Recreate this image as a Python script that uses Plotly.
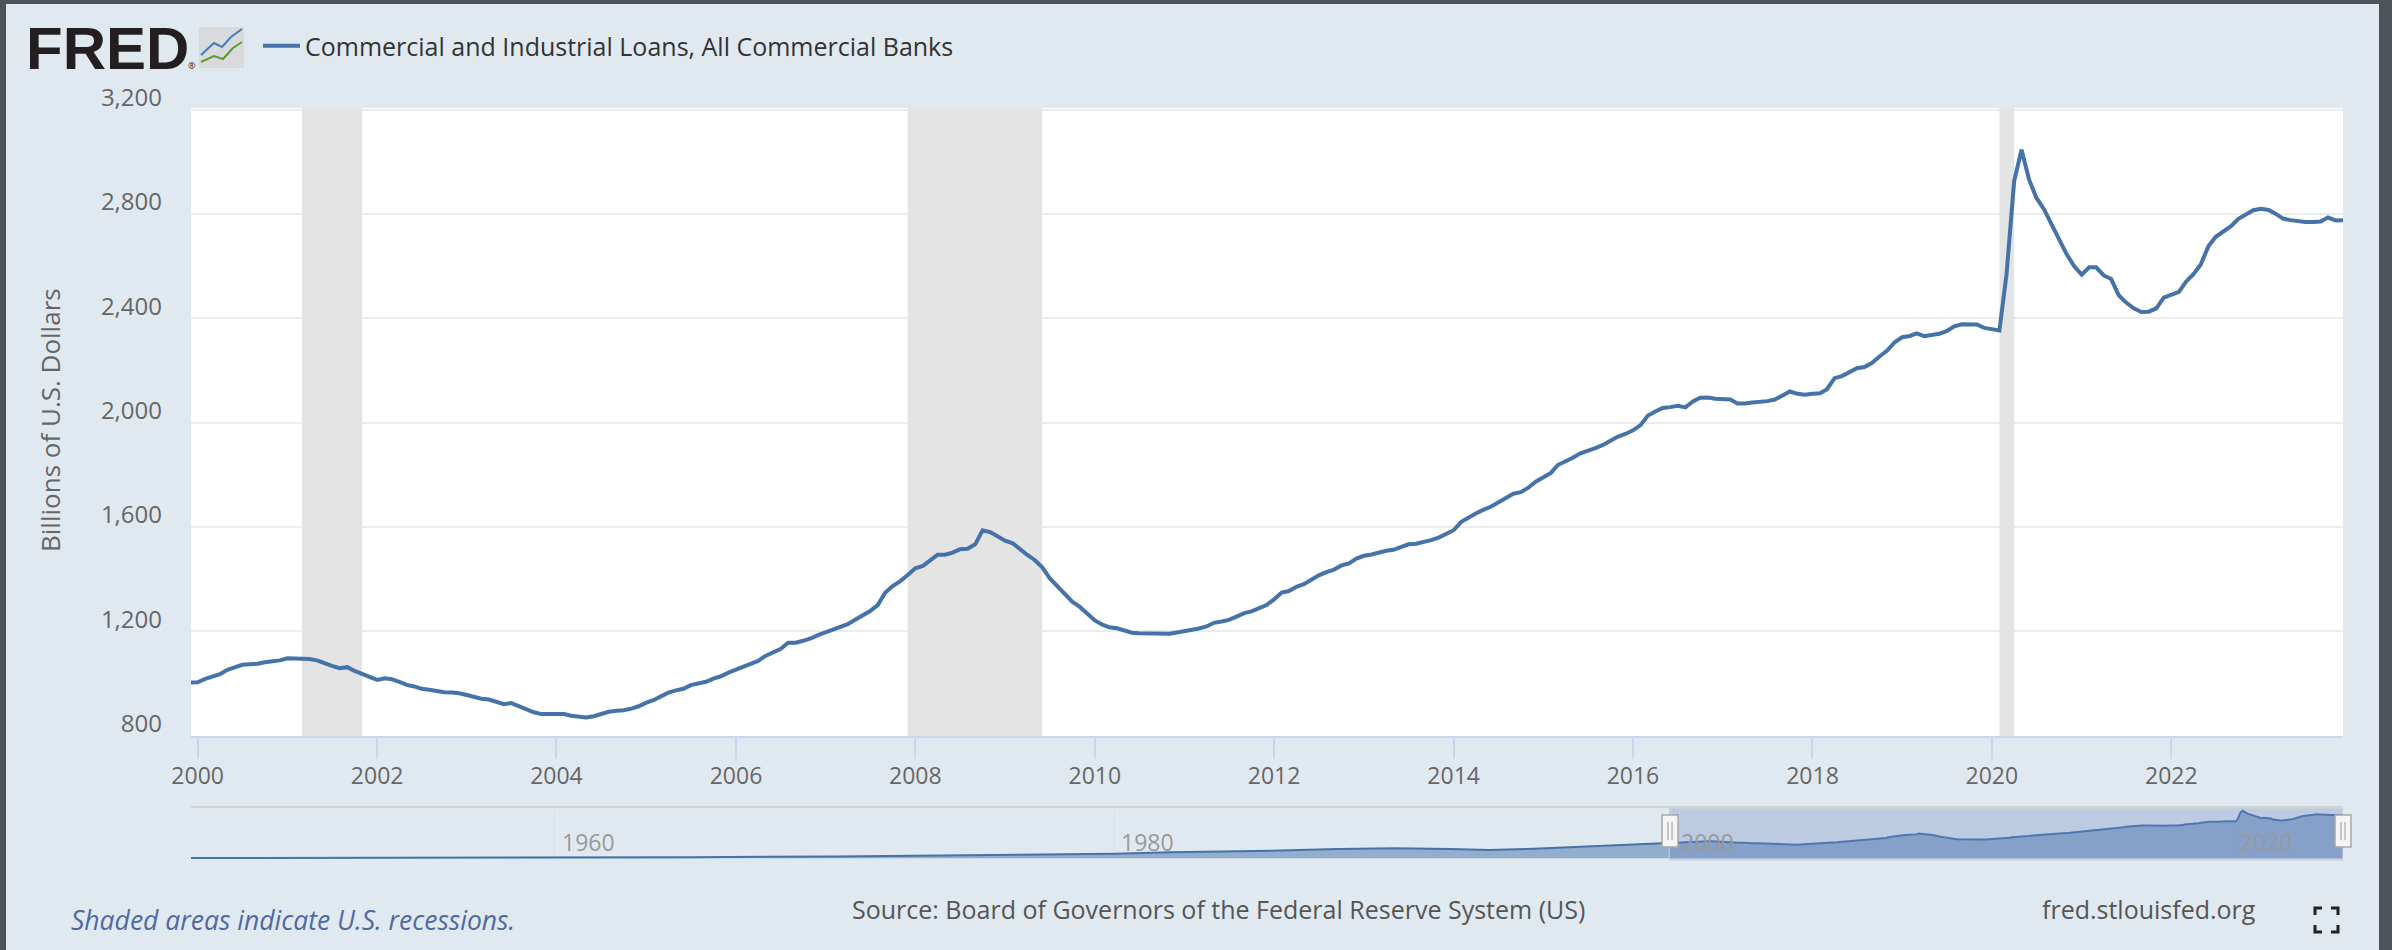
import pandas as pd
import plotly.graph_objects as go

# Commercial and Industrial Loans, billions of dollars, monthly from Dec 1999
START_MONTH = "1999-12-01"
loans = [
    1003, 1004, 1017, 1026, 1035, 1052, 1063, 1071, 1073, 1075, 1081, 1084, 1088,
    1096, 1096, 1095, 1093, 1088, 1076, 1067, 1058, 1062, 1048, 1035, 1024,
    1013, 1019, 1016, 1006, 994, 988, 979, 975, 970, 966, 965, 962,
    955, 946, 941, 938, 929, 920, 924, 911, 902, 889, 882, 883,
    884, 882, 876, 871, 869, 874, 884, 891, 895, 897, 903, 912,
    926, 936, 950, 964, 973, 979, 993, 1001, 1006, 1018, 1027, 1041,
    1052, 1062, 1073, 1086, 1105, 1119, 1131, 1156, 1156, 1163, 1172, 1185,
    1195, 1205, 1215, 1227, 1244, 1262, 1277, 1300, 1348, 1373, 1392, 1415,
    1441, 1450, 1473, 1493, 1493, 1501, 1514, 1516, 1533, 1587, 1580, 1562,
    1547, 1537, 1514, 1492, 1473, 1445, 1403, 1371, 1343, 1313, 1293, 1267,
    1241, 1225, 1215, 1211, 1201, 1194, 1192, 1191, 1190, 1189, 1190, 1195,
    1199, 1204, 1210, 1218, 1232, 1237, 1243, 1256, 1269, 1276, 1288, 1300,
    1322, 1348, 1354, 1370, 1380, 1399, 1414, 1426, 1436, 1452, 1460, 1478,
    1489, 1494, 1501, 1508, 1512, 1522, 1533, 1535, 1541, 1549, 1559, 1574,
    1587, 1619, 1636, 1651, 1665, 1677, 1693, 1711, 1727, 1733, 1750, 1773,
    1791, 1807, 1837, 1850, 1865, 1882, 1891, 1902, 1914, 1929, 1946, 1956,
    1970, 1990, 2026, 2042, 2056, 2059, 2064, 2058, 2081, 2095, 2096, 2091,
    2089, 2088, 2073, 2073, 2077, 2078, 2082, 2088, 2106, 2119, 2110, 2107,
    2110, 2112, 2128, 2170, 2178, 2194, 2208, 2213, 2229, 2253, 2276, 2307,
    2327, 2332, 2342, 2331, 2335, 2340, 2350, 2369, 2377, 2378, 2376, 2363,
    2358, 2353, 2568, 2925, 3046, 2931, 2861, 2817, 2759, 2702, 2645, 2600,
    2567, 2595, 2595, 2564, 2550, 2488, 2460, 2438, 2424, 2425, 2438, 2479,
    2492, 2501, 2539, 2569, 2606, 2676, 2712, 2734, 2753, 2781, 2800, 2814,
    2820, 2815, 2801, 2782, 2776, 2771, 2769, 2769, 2771, 2786, 2775, 2776,
]
loan_dates = pd.date_range(START_MONTH, periods=len(loans), freq="MS")

# Earlier history, used only by the overview strip
history_dates = ["1947-01-01", "1950-01-01", "1955-01-01", "1960-01-01", "1965-01-01",
                 "1970-01-01", "1975-01-01", "1980-01-01", "1982-01-01", "1985-01-01",
                 "1988-01-01", "1990-01-01", "1992-01-01", "1993-06-01", "1995-01-01",
                 "1996-01-01", "1997-01-01", "1998-01-01", "1999-01-01"]
history_values = [15, 20, 30, 45, 70, 120, 185, 290, 390, 460, 590, 640, 590, 530, 620,
                  700, 770, 870, 960]

# NBER recession spans
recessions = [("2001-03-01", "2001-11-01"), ("2007-12-01", "2009-06-01"), ("2020-02-01", "2020-04-01")]

y_ticks = [800, 1200, 1600, 2000, 2400, 2800, 3200]
Y_MIN, Y_MAX = 798, 3206
overview_years = ["1960", "1980", "2000", "2020"]

SERIES_NAME = "Commercial and Industrial Loans, All Commercial Banks"
Y_TITLE = "Billions of U.S. Dollars"
SOURCE = "Source: Board of Governors of the Federal Reserve System (US)"
SITE = "fred.stlouisfed.org"
NOTE = "Shaded areas indicate U.S. recessions."

BG = "#e1e9f0"
FRAME = "#4e5359"
LINE = "#4572a7"
AXIS = "#ccd6eb"
FONT = "Open Sans"

W, H = 2392, 950
L, R, T, B = 191, 2343, 108, 859


def px(x):
    return (x - L) / (R - L)


def py(y):
    return (B - y) / (B - T)


def path(points, close=False):
    d = "M " + " L ".join(f"{px(x):.5f},{py(y):.5f}" for x, y in points)
    return d + (" Z" if close else "")


def deco(points, line=None, fill=None, width=2, close=False):
    return dict(type="path", xref="paper", yref="paper", path=path(points, close),
                line=dict(color=line or "rgba(0,0,0,0)", width=width),
                fillcolor=fill or "rgba(0,0,0,0)", layer="above")


def box(x0, y0, x1, y1, fill, line=None, width=0, layer="above"):
    return dict(type="rect", xref="paper", yref="paper", x0=px(x0), x1=px(x1), y0=py(y0), y1=py(y1),
                fillcolor=fill, line=dict(color=line or "rgba(0,0,0,0)", width=width), layer=layer)


def label(text, x, y, size, color, anchor="left", italic=False, family=FONT, angle=0):
    return dict(text=f"<i>{text}</i>" if italic else text, xref="paper", yref="paper", x=px(x), y=py(y),
                xanchor=anchor, yanchor="middle", showarrow=False, textangle=angle,
                font=dict(family=family, size=size, color=color))


fig = go.Figure()
fig.add_trace(go.Scatter(x=loan_dates, y=loans, mode="lines", name=SERIES_NAME,
                         line=dict(color=LINE, width=4), hoverinfo="x+y", xaxis="x", yaxis="y"))
fig.add_trace(go.Scatter(x=history_dates + list(loan_dates), y=history_values + loans, mode="lines",
                         showlegend=False, hoverinfo="skip", fill="tozeroy",
                         fillcolor="rgba(69,114,167,0.5)", line=dict(color=LINE, width=2),
                         xaxis="x2", yaxis="y2"))

# white panel behind the main chart only; the overview strip stays on the page colour
shapes = [box(L, T, R, 736, "#ffffff", layer="below")]

# recession bands sit over the gridlines and under the line
for start, end in recessions:
    shapes.append(dict(type="rect", xref="x", yref="y", x0=start, x1=end, y0=Y_MIN, y1=Y_MAX,
                       fillcolor="#e4e4e4", line=dict(width=0), layer="between"))

# window frame around the panel
shapes += [
    box(0, 0, W, 4, FRAME),
    box(0, 0, 6, H, FRAME),
    box(2379, 0, W, H, FRAME),
]

# overview strip: top rule, selected window and its handles
shapes.append(box(L, 806, R, 808, "#cfd3d6"))
shapes.append(dict(type="rect", xref="x2", yref="paper", x0="1999-11-01", x1="2023-12-01",
                   y0=py(860), y1=py(808), fillcolor="rgba(102,133,194,0.3)",
                   line=dict(color="#cfd3d6", width=1), layer="above"))
for hx in (1670, 2343):
    shapes.append(box(hx - 8, 815, hx + 8, 847, "#f5f5f5", "#a8a8a8", 1.5))
    shapes.append(deco([(hx - 2, 822), (hx - 2, 840)], "#999999", width=1))
    shapes.append(deco([(hx + 2, 822), (hx + 2, 840)], "#999999", width=1))

# logo chart tile
shapes.append(dict(type="rect", xref="paper", yref="paper", x0=px(199), x1=px(244), y0=py(68), y1=py(27),
                   fillcolor="#d9dadb", line=dict(width=0), layer="above"))
shapes.append(deco([(201, 55), (214, 43), (222, 47), (231, 37), (242, 29)], "#3f7fbf", width=2))
shapes.append(deco([(201, 62), (214, 56), (223, 59), (233, 48), (242, 42)], "#5f9a2c", width=2))

# fullscreen glyph
for pts in ([(2315, 915), (2315, 908), (2322, 908)], [(2331, 908), (2338, 908), (2338, 915)],
            [(2315, 925), (2315, 932), (2322, 932)], [(2331, 932), (2338, 932), (2338, 925)]):
    shapes.append(deco(pts, "#222222", width=3))

annotations = [
    label("<b>FRED</b>", 24, 48, 60, "#231f20", family="Liberation Sans"),
    label("®", 186, 66, 9, "#231f20"),
    label(Y_TITLE, 50, 420, 26, "#666666", anchor="center", angle=-90),
    label(NOTE, 69, 920, 26.5, "#4f6aa3", italic=True),
    label(SOURCE, 850, 909, 25, "#555555"),
    label(SITE, 2040, 909, 25, "#555555"),
]
for year in overview_years:
    annotations.append(dict(text=year, xref="x2", yref="paper", x=f"{year}-01-01", y=py(842), xanchor="left",
                            xshift=5, yanchor="middle", showarrow=False,
                            font=dict(family=FONT, size=23, color="#999999")))

fig.update_layout(
    width=W, height=H, autosize=False,
    margin=dict(l=L, r=W - R, t=T, b=H - B, pad=0),
    paper_bgcolor=BG, plot_bgcolor="rgba(0,0,0,0)",
    font=dict(family=FONT, color="#666666"),
    showlegend=True,
    legend=dict(x=px(258), y=py(46), xanchor="left", yanchor="middle", bgcolor="rgba(0,0,0,0)",
                itemwidth=37, font=dict(family=FONT, size=25, color="#333333")),
    xaxis=dict(domain=[0, 1], anchor="y", range=["1999-12-05", "2023-12-01"], type="date",
               tick0="2000-01-01", dtick="M24", tickformat="%Y", showgrid=False,
               ticks="outside", ticklen=21, tickwidth=1.5, tickcolor=AXIS,
               showline=True, linecolor=AXIS, linewidth=2, ticklabelstandoff=-3,
               tickfont=dict(family=FONT, size=23, color="#666666")),
    yaxis=dict(domain=[py(736), 1], anchor="x", range=[Y_MIN, Y_MAX], tickvals=y_ticks, tickformat=",",
               showgrid=True, gridcolor="#ececec", gridwidth=2, zeroline=False, showline=False,
               ticklabelstandoff=28, ticklabelshift=-12,
               tickfont=dict(family=FONT, size=24, color="#666666")),
    xaxis2=dict(domain=[0, 1], anchor="y2", range=["1947-01-01", "2023-12-01"], type="date",
                showticklabels=False, ticks="", showline=False, zeroline=False,
                tick0="1960-01-01", dtick="M240", showgrid=True, gridcolor="#d9e2ea", gridwidth=1),
    yaxis2=dict(domain=[0, py(809)], anchor="x2", range=[-45, 3160], showticklabels=False, ticks="",
                showgrid=False, zeroline=False, showline=False),
    shapes=shapes,
    annotations=annotations,
)

fig.write_html("out.html")
